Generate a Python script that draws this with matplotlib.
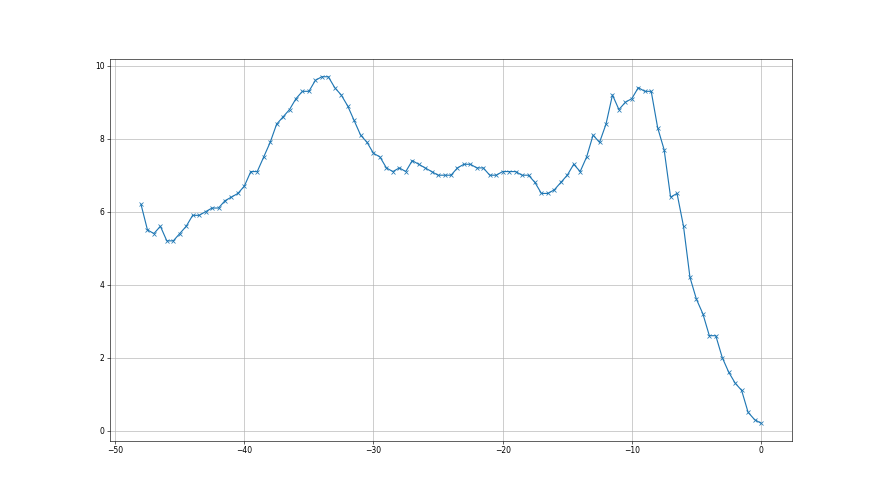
import numpy as np
import matplotlib
matplotlib.use("Agg")
import matplotlib.pyplot as plt

x_start = -48.0
x_step = 0.5
values = [
    6.2, 5.5, 5.4, 5.6, 5.2, 5.2, 5.4, 5.6, 5.9, 5.9,
    6.0, 6.1, 6.1, 6.3, 6.4, 6.5, 6.7, 7.1, 7.1,
    7.5, 7.9, 8.4, 8.6, 8.8, 9.1, 9.3, 9.3, 9.6, 9.7, 9.7, 9.4, 9.2, 8.9,
    8.5, 8.1, 7.9, 7.6, 7.5, 7.2, 7.1, 7.2, 7.1, 7.4, 7.3, 7.2, 7.1, 7.0,
    7.0, 7.0, 7.2, 7.3, 7.3, 7.2, 7.2, 7.0, 7.0, 7.1, 7.1, 7.1, 7.0, 7.0,
    6.8, 6.5, 6.5, 6.6, 6.8, 7.0, 7.3, 7.1, 7.5, 8.1, 7.9,
    8.4, 9.2, 8.8, 9.0, 9.1, 9.4, 9.3, 9.3, 8.3, 7.7, 6.4, 6.5, 5.6,
    4.2, 3.6, 3.2, 2.6, 2.6, 2.0, 1.6, 1.3, 1.1, 0.5, 0.3, 0.2,
]
x_values = [x_start + i * x_step for i in range(len(values))]

fig, ax = plt.subplots(figsize=(16, 9), dpi=55)
ax.plot(x_values, values, marker="x", color="#1f77b4")
ax.grid(True)
fig.savefig("out.png", dpi=55)
